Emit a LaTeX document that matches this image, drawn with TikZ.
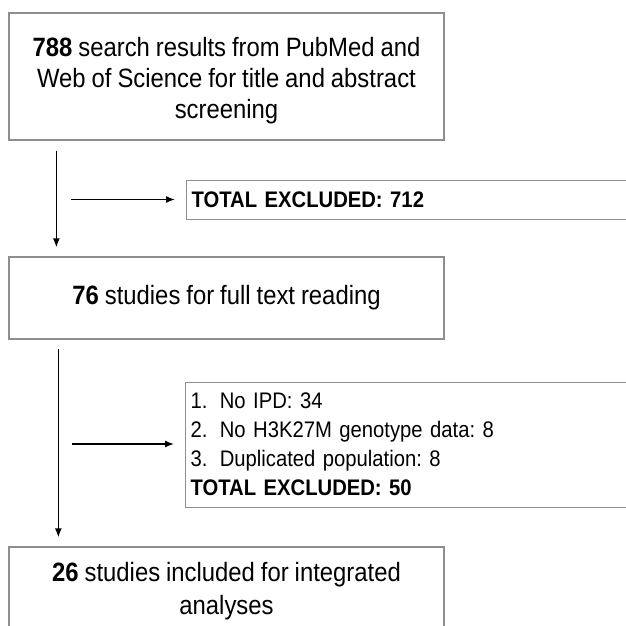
\documentclass[tikz,border=0pt]{standalone}
\usepackage{fontspec}
\setmainfont[FakeStretch=0.9, WordSpace=0.9]{Liberation Sans}
\usetikzlibrary{arrows.meta}
\definecolor{boxgray}{HTML}{8E8E8E}
\tikzset{
  x=1pt, y=1pt,
  flowbox/.style={draw=boxgray, line width=1.3pt, fill=white, align=center,
    font=\fontsize{26.5}{31}\selectfont, inner sep=0pt},
  exbox/.style={draw=boxgray, line width=1pt, fill=white, align=left,
    font=\fontsize{22.5}{29}\selectfont, inner xsep=4pt, inner ysep=0pt, anchor=west},
  flowarrow/.style={line width=1.4pt, -{Latex[length=9pt,width=7pt]}}
}
\begin{document}
\frenchspacing
\begin{tikzpicture}
\useasboundingbox (0,0) rectangle (625,-626);

% main stages
\node[flowbox, minimum width=435pt, minimum height=127pt] (search) at (226.5,-76.5) {};
\node[flowbox, draw=none, fill=none] at (226.5,-81)
  {\textbf{788} search results from PubMed and\\Web of Science for title and abstract\\screening};
\node[flowbox, minimum width=435pt, minimum height=82pt] (fulltext) at (226.5,-298)
  {\textbf{76} studies for full text reading};
\node[flowbox, minimum width=435pt, minimum height=100pt] (included) at (226.5,-597) {};
\node[flowbox, draw=none, fill=none, font=\fontsize{26.5}{33}\selectfont] at (226.5,-591.5)
  {\textbf{26} studies included for integrated\\analyses};

% exclusion boxes
\node[exbox, minimum width=450pt, minimum height=39pt, text width=440pt] (excl1) at (186,-199.5)
  {\textbf{TOTAL EXCLUDED: 712}};
\node[exbox, minimum width=450pt, minimum height=125pt, text width=440pt] (excl2) at (185,-444.5)
  {1.\hspace{0.55em}No IPD: 34\\2.\hspace{0.55em}No H3K27M genotype data: 8\\3.\hspace{0.55em}Duplicated population: 8\\\textbf{TOTAL EXCLUDED: 50}};

% flow connectors
\draw[flowarrow] ([xshift=48pt,yshift=-10pt]search.south west) -- ([xshift=48pt,yshift=9pt]fulltext.north west);
\draw[flowarrow] ([xshift=50pt,yshift=-9pt]fulltext.south west) -- ([xshift=50pt,yshift=9pt]included.north west);

% side connectors
\coordinate (s1) at (71,-199.5);
\coordinate (s2) at (72,-444);
\draw[flowarrow] (s1) -- ([xshift=-11pt]excl1.west);
\draw[flowarrow] (s2) -- ([xshift=-11pt]excl2.west |- s2);
\end{tikzpicture}
\end{document}
